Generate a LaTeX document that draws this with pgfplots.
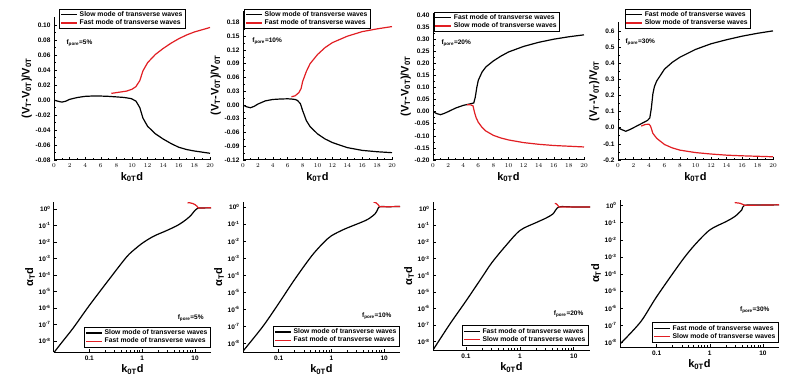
\documentclass[border=0pt]{standalone}
\usepackage{fontspec}
\setmainfont{Liberation Sans}
\usepackage{pgfplots}
\pgfplotsset{compat=1.18}
\definecolor{myred}{RGB}{225,30,35}
\newcommand{\tfont}{\fontsize{6.5}{7}\selectfont\bfseries}
\newcommand{\lfont}{\fontsize{6.8}{7.6}\selectfont\bfseries}
\newcommand{\afont}{\fontsize{11}{12}\selectfont\bfseries}
\pgfplotsset{
  mybase/.style={
    scale only axis,
    axis x line*=bottom, axis y line*=left,
    axis line style={line width=1pt},
    every tick/.style={line width=0.6pt, black},
    major tick length=3pt, minor tick length=1.8pt,
    tick label style={font=\tfont},
    label style={font=\afont},
    legend style={font=\lfont, draw=black, line width=0.9pt, inner sep=0.6pt, outer sep=0pt,
      row sep=-2.2pt, cells={anchor=west}, fill=white},
    legend image code/.code={\draw[##1] (0pt,0pt) -- (16pt,0pt);},
  },
  bk/.style={black, line width=1.2pt, no markers},
  rd/.style={myred, line width=1.2pt, no markers},
  mytop/.style={mybase, xmin=0, xmax=20, xtick={0,2,...,20}, minor x tick num=1, minor y tick num=1,
    xlabel={k\textsubscript{0T}d},
    ylabel={(V\textsubscript{T}-V\textsubscript{0T})/V\textsubscript{0T}},
    xlabel style={yshift=2pt}, ylabel style={yshift=-3pt}},
  mybot/.style={mybase, xmax=20, xtick={0.1,1,10}, xticklabels={0.1,1,10},
    yminorticks=false,
    ytick={1e-8,1e-7,1e-6,1e-5,1e-4,1e-3,1e-2,1e-1,1},
    yticklabels={10\textsuperscript{-8},10\textsuperscript{-7},10\textsuperscript{-6},10\textsuperscript{-5},10\textsuperscript{-4},10\textsuperscript{-3},10\textsuperscript{-2},10\textsuperscript{-1},10\textsuperscript{0}},
    xlabel={k\textsubscript{0T}d}, ylabel={α\textsubscript{T}d},
    xlabel style={yshift=2pt}, ylabel style={yshift=-3pt}},
}
\begin{document}
\begin{tikzpicture}
\useasboundingbox (0,0) rectangle (798pt,386pt);
% ---------- Panel 1 ----------
\begin{axis}[mytop, at={(54pt,226pt)}, anchor=south west, width=156pt, height=143pt,
  ymin=-0.08, ymax=0.111, ytick={-0.08,-0.06,-0.04,-0.02,0,0.02,0.04,0.06,0.08,0.10},
  yticklabels={-0.08,-0.06,-0.04,-0.02,0.00,0.02,0.04,0.06,0.08,0.10},
  legend style={at={(rel axis cs:0.038,1.056)}, anchor=north west}]
\addplot[bk] coordinates {(0,0) (0.5,-0.0015) (1,-0.0027) (1.5,-0.0015) (2,0.001) (3,0.0035) (4,0.005) (5,0.0055) (6,0.0054) (7,0.005) (8,0.0043) (9,0.0035) (9.9,0.002) (10.5,-0.0013) (11,-0.01) (11.4,-0.024) (12,-0.035) (13,-0.045) (14,-0.052) (15,-0.058) (16,-0.063) (17,-0.066) (18,-0.068) (19,-0.0695) (20,-0.071)};
\addlegendentry{Slow mode of transverse waves}
\addplot[rd] coordinates {(7.35,0.009) (8,0.010) (9.3,0.012) (10,0.0145) (10.5,0.018) (11,0.026) (11.4,0.039) (12,0.05) (13,0.061) (14,0.069) (15,0.076) (16,0.082) (17,0.087) (18,0.091) (19,0.094) (20,0.097)};
\addlegendentry{Fast mode of transverse waves}
\node[anchor=west, font=\tfont] at (rel axis cs:0.058,0.818) {f\textsubscript{pore}=5\%};
\end{axis}
% ---------- Panel 2 ----------
\begin{axis}[mytop, at={(243pt,226pt)}, anchor=south west, width=149pt, height=149pt,
  ymin=-0.12, ymax=0.205, ytick={-0.12,-0.09,-0.06,-0.03,0,0.03,0.06,0.09,0.12,0.15,0.18},
  yticklabels={-0.12,-0.09,-0.06,-0.03,0.00,0.03,0.06,0.09,0.12,0.15,0.18},
  legend style={at={(rel axis cs:0.013,1.013)}, anchor=north west}]
\addplot[bk] coordinates {(0,0) (0.5,-0.004) (1,-0.006) (1.5,-0.003) (2,0.002) (3,0.009) (4,0.012) (5,0.013) (6,0.0135) (6.5,0.013) (7,0.012) (7.3,0.010) (7.7,0.003) (8,-0.012) (8.5,-0.034) (9,-0.047) (10,-0.063) (11,-0.074) (12,-0.082) (14,-0.093) (16,-0.099) (18,-0.102) (20,-0.104)};
\addlegendentry{Slow mode of transverse waves}
\addplot[rd] coordinates {(6.5,0.018) (7,0.02) (7.5,0.027) (7.8,0.036) (8,0.051) (8.5,0.073) (9,0.09) (10,0.11) (11,0.125) (12,0.136) (14,0.15) (16,0.16) (18,0.166) (20,0.171)};
\addlegendentry{Fast mode of transverse waves}
\node[anchor=west, font=\tfont] at (rel axis cs:0.04,0.80) {f\textsubscript{pore}=10\%};
\end{axis}
% ---------- Panel 3 ----------
\begin{axis}[mytop, at={(433pt,226pt)}, anchor=south west, width=151pt, height=147.4pt,
  ymin=-0.2, ymax=0.41, ytick={-0.2,-0.15,-0.1,-0.05,0,0.05,0.1,0.15,0.2,0.25,0.3,0.35,0.4},
  yticklabels={-0.20,-0.15,-0.10,-0.05,0.00,0.05,0.10,0.15,0.20,0.25,0.30,0.35,0.40},
  legend style={at={(rel axis cs:0.007,1.004)}, anchor=north west}]
\addplot[bk] coordinates {(0,0) (0.5,-0.008) (1,-0.0125) (1.5,-0.007) (2,0) (3,0.015) (4,0.026) (5,0.033) (5.4,0.036) (5.6,0.06) (5.8,0.10) (6,0.13) (6.5,0.164) (7,0.185) (8,0.21) (9,0.23) (10,0.247) (12,0.27) (14,0.287) (16,0.30) (18,0.31) (20,0.318)};
\addlegendentry{Fast mode of transverse waves}
\addplot[rd] coordinates {(4.5,0.029) (5,0.028) (5.3,0.024) (5.5,-0.003) (5.7,-0.024) (6,-0.044) (6.5,-0.065) (7,-0.08) (8,-0.098) (9,-0.109) (10,-0.117) (12,-0.128) (14,-0.135) (16,-0.140) (18,-0.143) (20,-0.146)};
\addlegendentry{Slow mode of transverse waves}
\node[anchor=west, font=\tfont] at (rel axis cs:0.033,0.794) {f\textsubscript{pore}=20\%};
\end{axis}
% ---------- Panel 4 ----------
\begin{axis}[mytop, at={(618pt,226pt)}, anchor=south west, width=155pt, height=138pt,
  ymin=-0.2, ymax=0.655, ytick={-0.2,-0.1,0,0.1,0.2,0.3,0.4,0.5,0.6},
  yticklabels={-0.2,-0.1,0.0,0.1,0.2,0.3,0.4,0.5,0.6},
  legend style={at={(rel axis cs:0.045,1.094)}, anchor=north west}]
\addplot[bk] coordinates {(0,0) (0.5,-0.012) (1,-0.022) (1.5,-0.012) (2,0) (3,0.025) (3.8,0.045) (4.1,0.06) (4.3,0.12) (4.5,0.21) (4.7,0.255) (5,0.29) (6,0.363) (7,0.405) (8,0.437) (10,0.485) (12,0.52) (14,0.545) (16,0.567) (18,0.585) (20,0.60)};
\addlegendentry{Fast mode of transverse waves}
\addplot[rd] coordinates {(3,0.01) (3.5,0.02) (4,0.022) (4.2,0.01) (4.5,-0.035) (5,-0.066) (6,-0.104) (7,-0.125) (8,-0.139) (10,-0.154) (12,-0.163) (14,-0.17) (16,-0.174) (18,-0.177) (20,-0.18)};
\addlegendentry{Slow mode of transverse waves}
\node[anchor=west, font=\tfont] at (rel axis cs:0.026,0.855) {f\textsubscript{pore}=30\%};
\end{axis}
% ---------- Panel 5 ----------
\begin{loglogaxis}[mybot, at={(54pt,34pt)}, anchor=south west, width=157pt, height=150pt,
  xmin=0.0215, ymin=2.14e-9, ymax=2.63,
  legend style={at={(rel axis cs:0.994,0.033)}, anchor=south east}]
\addplot[bk, smooth, tension=0.5] coordinates {(0.0215,2.0e-9) (0.03,7.9e-9) (0.05,6.3e-8) (0.1,1.41e-6) (0.245,6.2e-5) (0.51,1.26e-3) (0.75,3.98e-3) (1.0,8.3e-3) (1.4,1.66e-2) (1.84,2.63e-2) (2.5,3.98e-2) (3.3,5.9e-2) (4.5,9.5e-2) (6,0.17) (8,0.355) (10,0.83) (11,1.05) (11.5,1.148) (14,1.148) (20,1.175)};
\addlegendentry{Slow mode of transverse waves}
\addplot[rd] coordinates {(7.2,2.40) (8,2.34) (9,2.14) (10,1.82) (10.8,1.48) (11.5,1.148) (14,1.148) (20,1.175)};
\addlegendentry{Fast mode of transverse waves}
\node[anchor=east, font=\tfont] at (rel axis cs:0.975,0.227) {f\textsubscript{pore}=5\%};
\end{loglogaxis}
% ---------- Panel 6 ----------
\begin{loglogaxis}[mybot, at={(243pt,34pt)}, anchor=south west, width=157pt, height=150pt,
  xmin=0.021, ymin=3.16e-9, ymax=2.0,
  legend style={at={(rel axis cs:0.994,0.04)}, anchor=south east}]
\addplot[bk, smooth, tension=0.5] coordinates {(0.021,3.55e-9) (0.05,1.0e-7) (0.1,2.24e-6) (0.2,5.62e-5) (0.42,1.35e-3) (0.7,7.94e-3) (1.0,2.09e-2) (1.8,5.25e-2) (3.7,0.129) (5,0.2) (6.7,0.398) (7.5,0.708) (8.2,1.06) (12,1.06) (20,1.09)};
\addlegendentry{Slow mode of transverse waves}
\addplot[rd] coordinates {(6.3,2.0) (7,1.8) (7.6,1.45) (8.2,1.06) (12,1.06) (20,1.09)};
\addlegendentry{Fast mode of transverse waves}
\node[anchor=east, font=\tfont] at (rel axis cs:0.968,0.24) {f\textsubscript{pore}=10\%};
\end{loglogaxis}
% ---------- Panel 7 ----------
\begin{loglogaxis}[mybot, at={(433pt,36pt)}, anchor=south west, width=157pt, height=148.3pt,
  xmin=0.0245, ymin=3.16e-9, ymax=2.75,
  legend style={at={(rel axis cs:0.987,0.03)}, anchor=south east}]
\addplot[bk, smooth, tension=0.5] coordinates {(0.0245,3.16e-9) (0.05,1.12e-7) (0.1,2.82e-6) (0.2,7.94e-5) (0.3,5.62e-4) (0.53,5.37e-3) (1,5.01e-2) (2,0.151) (3,0.275) (4.1,0.501) (5.3,1.32) (10,1.32) (20,1.32)};
\addlegendentry{Fast mode of transverse waves}
\addplot[rd] coordinates {(4.45,2.19) (4.8,2.0) (5.1,1.585) (5.3,1.32) (10,1.32) (20,1.32)};
\addlegendentry{Slow mode of transverse waves}
\node[anchor=east, font=\tfont] at (rel axis cs:0.98,0.24) {f\textsubscript{pore}=20\%};
\end{loglogaxis}
% ---------- Panel 8 ----------
\begin{loglogaxis}[mybot, at={(620pt,39pt)}, anchor=south west, width=159pt, height=147pt,
  xmin=0.0205, ymin=5.37e-9, ymax=2.14,
  legend style={at={(rel axis cs:0.994,0.03)}, anchor=south east}]
\addplot[bk, smooth, tension=0.5] coordinates {(0.0205,7.94e-9) (0.05,1.58e-7) (0.1,4.68e-6) (0.29,5.25e-4) (0.52,5.01e-3) (1,3.80e-2) (2,0.115) (2.94,0.229) (4,0.562) (4.5,1.05) (10,1.08) (20,1.12)};
\addlegendentry{Fast mode of transverse waves}
\addplot[rd] coordinates {(2.94,1.51) (3.7,1.38) (4.2,1.17) (4.5,1.05) (10,1.08) (20,1.12)};
\addlegendentry{Slow mode of transverse waves}
\node[anchor=east, font=\tfont] at (rel axis cs:0.962,0.25) {f\textsubscript{pore}=30\%};
\end{loglogaxis}
\end{tikzpicture}
\end{document}
